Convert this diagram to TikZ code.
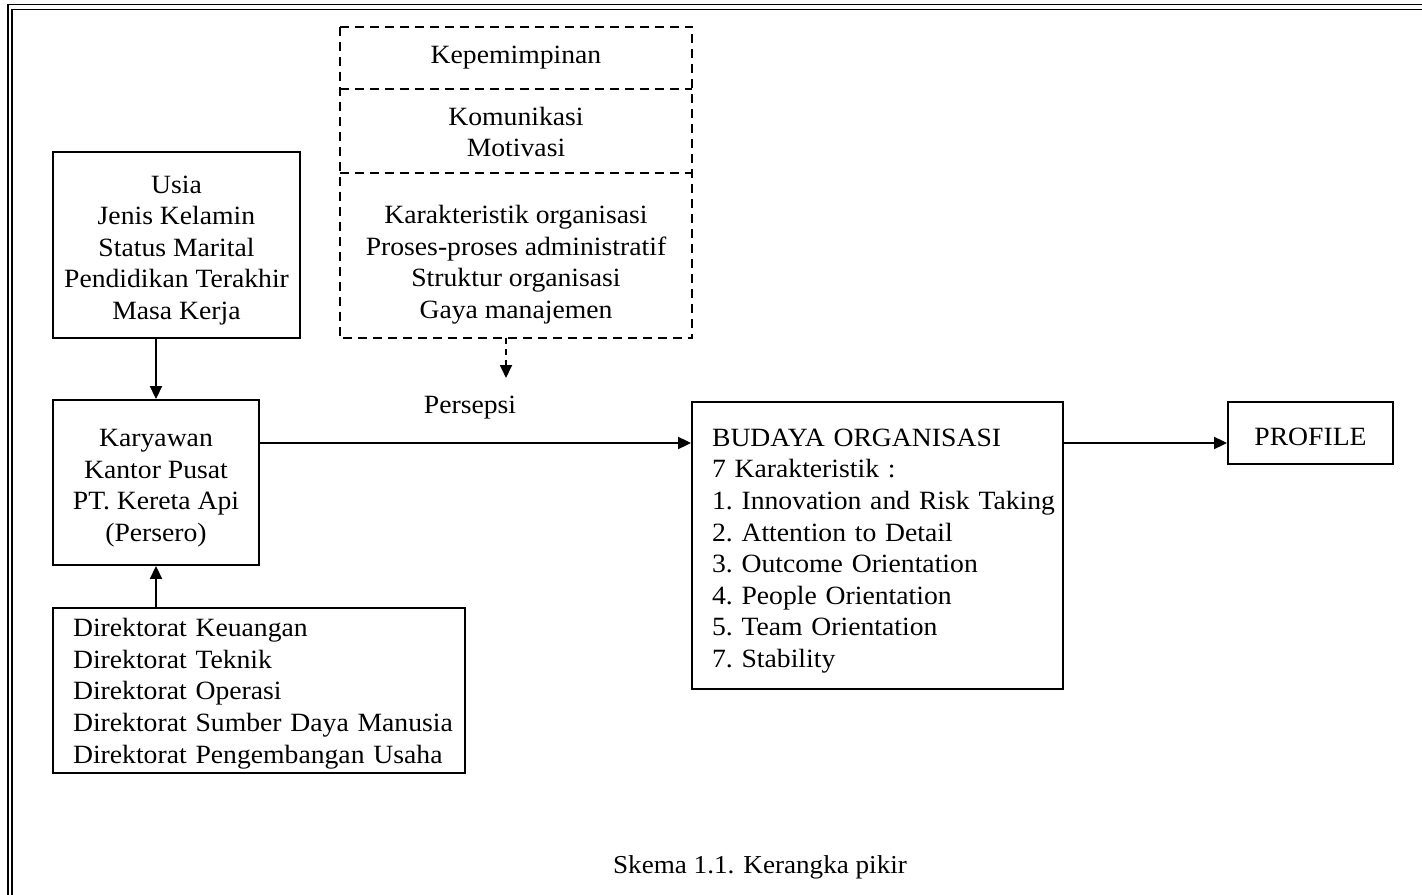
\documentclass[tikz,border=0pt]{standalone}
\usepackage{fontspec}
\setmainfont[FakeStretch=1.05]{Liberation Serif}
\usepackage{tikz}
\usetikzlibrary{arrows.meta, positioning, calc}
\newcommand{\topgap}[1][18.3pt]{\rule{0pt}{#1}}
\tikzstyle{textfont} = [font=\fontsize{15pt}{18pt}\selectfont\frenchspacing]
\tikzstyle{solidbox} = [rectangle, draw=black, line width=1.1pt, text centered, align=center, inner sep=0pt, textfont]
\tikzstyle{dashedline} = [line width=1pt, dash pattern=on 0.18cm off 0.12cm]
\tikzstyle{dashedbox} = [rectangle, align=center, inner sep=0pt, minimum width=7.04cm, textfont]
\tikzstyle{listbox} = [rectangle, draw=black, line width=1.1pt, align=left, inner xsep=0.4cm, inner ysep=0pt, textfont]
\tikzstyle{arrow} = [line width=1.1pt, -{Triangle[length=0.26cm, width=0.24cm]}]
\tikzstyle{dashedarrow} = [line width=1pt, dash pattern=on 0.12cm off 0.1cm, -{Triangle[length=0.26cm, width=0.24cm]}]

\begin{document}
\begin{tikzpicture}[x=0.02cm, y=-0.02cm]
    \useasboundingbox (0,0) rectangle (1422,895);
    % frame
    \draw[line width=0.7pt] (1422,4.6) -- (8.1,4.6) -- (8.1,895);
    \draw[line width=1pt] (1422,9.5) -- (12.3,9.5) -- (12.3,895);

    \node[solidbox, minimum width=4.94cm, minimum height=3.72cm] (usia) at (176.5,245)
        {\begin{tabular}{@{}c@{}}\topgap Usia\\Jenis Kelamin\\Status Marital\\Pendidikan Terakhir\\Masa Kerja\end{tabular}};
    \node[solidbox, minimum width=4.12cm, minimum height=3.3cm] (karyawan) at (156,482.5)
        {\begin{tabular}{@{}c@{}}\topgap Karyawan\\Kantor Pusat\\PT. Kereta Api\\(Persero)\end{tabular}};
    \node[listbox, text width=7.44cm, minimum height=3.3cm] (direktorat) at (259,690.5)
        {\begin{tabular}{@{}l@{}}\topgap[16pt]Direktorat Keuangan\\Direktorat Teknik\\Direktorat Operasi\\Direktorat Sumber Daya Manusia\\Direktorat Pengembangan Usaha\end{tabular}};

    % dashed block
    \node[dashedbox, minimum height=1.24cm] (kepemimpinan) at (516,58) {Kepemimpinan};
    \node[dashedbox, minimum height=1.68cm] (komunikasi) at (516,131)
        {\begin{tabular}{@{}c@{}}\topgap[16.6pt]Komunikasi\\Motivasi\end{tabular}};
    \node[dashedbox, minimum height=3.3cm] (karakteristik) at (516,255.5)
        {\begin{tabular}{@{}c@{}}\topgap[23pt]Karakteristik organisasi\\Proses-proses administratif\\Struktur organisasi\\Gaya manajemen\end{tabular}};
    \draw[dashedline] (kepemimpinan.north west) rectangle (karakteristik.south east);
    \draw[dashedline] (komunikasi.north west) -- (komunikasi.north east);
    \draw[dashedline] (komunikasi.south west) -- (komunikasi.south east);
    \coordinate (tip) at (506,378);
    \node[textfont] (persepsi) at (470,408) {Persepsi};

    \node[listbox, text width=6.62cm, minimum height=5.74cm] (budaya) at (877.5,545.5)
        {\begin{tabular}{@{}l@{}}\topgap BUDAYA ORGANISASI\\7 Karakteristik :\\1. Innovation and Risk Taking\\2. Attention to Detail\\3. Outcome Orientation\\4. People Orientation\\5. Team Orientation\\7. Stability\end{tabular}};
    \node[solidbox, minimum width=3.3cm, minimum height=1.24cm] (profile) at (1310.5,433)
        {\begin{tabular}{@{}c@{}}\topgap[20pt]PROFILE\end{tabular}};

    \node[font=\fontsize{14.7pt}{17pt}\selectfont] (caption) at (760,867) {Skema 1.1. Kerangka pikir};

    \coordinate (level) at (0,443);
    \draw[arrow] (karyawan.north |- usia.south) -- (karyawan.north);
    \draw[arrow] (karyawan.south |- direktorat.north) -- (karyawan.south);
    \draw[arrow] (karyawan.east |- level) -- (budaya.west |- level);
    \draw[arrow] (budaya.east |- level) -- (profile.west |- level);
    \draw[dashedarrow] (tip |- karakteristik.south) -- (tip);
\end{tikzpicture}
\end{document}
